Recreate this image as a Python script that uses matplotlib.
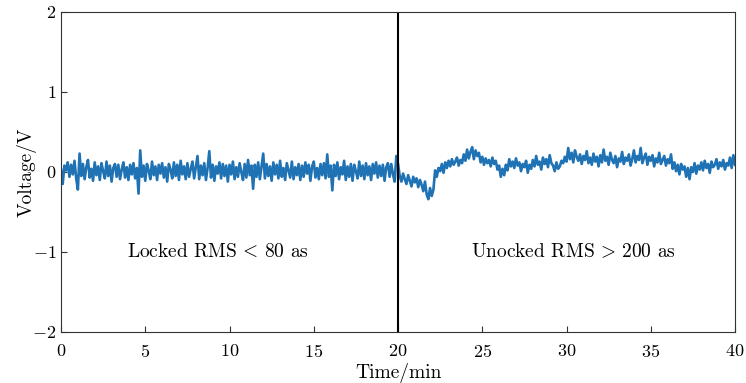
import numpy as np
import matplotlib
matplotlib.use('Agg')
import matplotlib.pyplot as plt

# voltage, one sample every 0.1 min
locked = [
    0.03, -0.15, 0.08, 0.02, 0.12, -0.06, 0.09, -0.03, 0.14, -0.08, -0.22, 0.23, -0.05, 0.10, -0.09, 0.06, 0.15, -0.07, 0.04, -0.11,
    0.12, -0.04, 0.07, -0.10, 0.11, 0.01, -0.08, 0.13, -0.05, 0.08, -0.12, 0.05, 0.10, -0.06, 0.09, -0.09, 0.03, 0.12, -0.07, 0.06,
    -0.10, 0.09, -0.03, 0.11, -0.08, 0.05, -0.27, 0.27, -0.06, 0.08, -0.11, 0.10, 0.02, -0.09, 0.13, -0.04, 0.07, -0.10, 0.09, -0.02,
    0.11, -0.07, 0.06, -0.12, 0.10, 0.03, -0.08, 0.12, -0.05, 0.09, -0.10, 0.14, -0.03, 0.07, -0.09, 0.11, -0.06, 0.04, 0.13, -0.08,
    0.06, 0.20, -0.09, 0.08, -0.04, 0.11, -0.10, 0.05, 0.26, -0.07, 0.09, -0.11, 0.07, -0.02, 0.12, -0.08, 0.10, -0.05, 0.08, -0.12,
    0.09, -0.03, 0.13, -0.09, 0.06, -0.06, 0.11, 0.00, -0.10, 0.10, -0.07, 0.15, -0.04, 0.08, -0.21, 0.09, -0.06, 0.12, -0.09, 0.07,
    0.23, -0.08, 0.10, -0.05, 0.07, -0.11, 0.12, -0.03, 0.09, -0.08, 0.14, -0.06, 0.05, -0.10, 0.11, 0.02, -0.07, 0.13, -0.09, 0.06,
    -0.04, 0.10, -0.10, 0.08, -0.06, 0.12, -0.02, 0.09, -0.11, 0.07, 0.13, -0.07, 0.05, -0.09, 0.10, -0.04, 0.11, -0.08, 0.22, -0.06,
    0.08, -0.23, 0.09, -0.05, 0.12, -0.09, 0.06, -0.03, 0.14, -0.10, 0.07, -0.06, 0.10, -0.11, 0.09, 0.01, -0.08, 0.13, -0.05, 0.08,
    -0.09, 0.11, -0.04, 0.07, -0.10, 0.10, -0.02, 0.12, -0.07, 0.08, -0.05, 0.09, -0.11, 0.06, 0.11, -0.06, 0.10, -0.03, -0.12, 0.20,
]
unlocked = [
    0.10, -0.05, -0.12, -0.02, -0.09, -0.15, -0.04, -0.11, -0.18, -0.06, -0.13, -0.08, -0.19, -0.10, -0.16, -0.24, -0.12, -0.28, -0.34, -0.20,
    -0.30, -0.22, 0.02, -0.06, 0.05, 0.01, 0.10, -0.01, 0.12, 0.05, 0.14, 0.07, 0.16, 0.09, 0.13, 0.18, 0.08, 0.15, 0.11, 0.22,
    0.14, 0.28, 0.17, 0.25, 0.31, 0.16, 0.27, 0.20, 0.24, 0.12, 0.19, 0.09, 0.17, 0.11, 0.15, 0.07, 0.18, 0.10, 0.14, 0.03,
    0.08, -0.06, 0.04, -0.04, 0.09, 0.02, 0.16, 0.07, 0.13, 0.05, 0.17, 0.08, 0.12, 0.01, 0.10, 0.06, 0.14, -0.01, 0.09, 0.04,
    0.15, 0.07, 0.20, 0.09, 0.13, 0.03, 0.18, 0.10, 0.16, 0.06, 0.21, 0.11, 0.08, 0.01, 0.12, 0.04, 0.07, 0.14, 0.11, 0.19,
    0.13, 0.30, 0.16, 0.24, 0.12, 0.27, 0.19, 0.14, 0.22, 0.10, 0.20, 0.15, 0.26, 0.11, 0.18, 0.09, 0.23, 0.13, 0.19, 0.07,
    0.21, 0.12, 0.28, 0.14, 0.19, 0.09, 0.24, 0.15, 0.11, 0.20, 0.06, 0.17, 0.13, 0.25, 0.10, 0.18, 0.14, 0.22, 0.08, 0.16,
    0.27, 0.12, 0.20, 0.15, 0.30, 0.11, 0.18, 0.23, 0.09, 0.19, 0.14, 0.21, 0.07, 0.17, 0.12, 0.24, 0.10, 0.15, 0.20, 0.08,
    0.16, 0.11, 0.22, 0.04, 0.12, 0.01, 0.09, -0.03, 0.10, 0.03, 0.07, -0.06, 0.05, -0.09, 0.06, 0.00, 0.11, -0.02, 0.08, 0.03,
    0.12, 0.02, 0.14, 0.05, 0.10, -0.01, 0.13, 0.06, 0.09, 0.16, 0.04, 0.12, 0.07, 0.15, 0.03, 0.11, 0.08, 0.18, 0.05, 0.21, 0.09,
]
lock_switch = 20
xticks = [0, 5, 10, 15, 20, 25, 30, 35, 40]
yticks = [-2, -1, 0, 1, 2]

plt.rcParams['font.family'] = ['cmr10', 'DejaVu Serif']
plt.rcParams['mathtext.fontset'] = 'cm'
plt.rcParams['axes.formatter.use_mathtext'] = True
plt.rcParams['font.size'] = 14

volt = np.array(locked + unlocked)
t = np.linspace(0, 40, len(volt))

fig = plt.figure(figsize=(7.46, 3.83), dpi=100)
ax = fig.add_axes([0.0818, 0.1332, 0.9035, 0.8355])

ax.plot(t, volt, color='#1f72b4', lw=1.9)
ax.plot([lock_switch, lock_switch], [-2, 2], color='black', lw=1.5)

ax.text(9.3, -1, r'Locked RMS$\,<\,$80 as', ha='center', va='center', fontsize=14)
ax.text(30.4, -1, r'Unocked RMS$\,>\,$200 as', ha='center', va='center', fontsize=14)

ax.set_xlim(0, 40)
ax.set_ylim(-2, 2)
ax.set_xticks(xticks)
ax.set_yticks(yticks)
ax.tick_params(axis='x', pad=8)
ax.tick_params(direction='in', length=4, width=0.8, color='#333333', labelsize=13)
for s in ax.spines.values():
    s.set_color('#333333')
    s.set_linewidth(0.8)

ax.set_xlabel('Time/min', labelpad=2)
ax.set_ylabel('Voltage/V', labelpad=-3)

fig.savefig('out.png', dpi=100)
